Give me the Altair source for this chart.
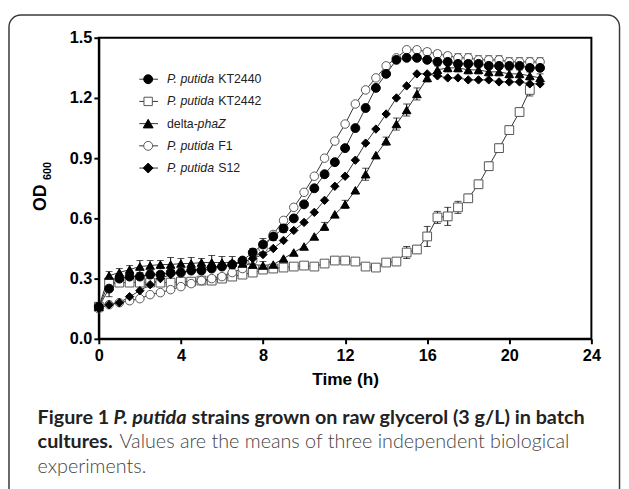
import altair as alt
import pandas as pd

# ---------------- data ----------------
times = [0, 0.5, 1, 1.5, 2, 2.5, 3, 3.5, 4, 4.5, 5, 5.5, 6, 6.5, 7, 7.5, 8, 8.5,
         9, 9.5, 10, 10.5, 11, 11.5, 12, 12.5, 13, 13.5, 14, 14.5, 15, 15.5,
         16, 16.5, 17, 17.5, 18, 18.5, 19, 19.5, 20, 20.5, 21, 21.5]

series = ["P. putida KT2440", "P. putida KT2442", "delta-phaZ",
          "P. putida F1", "P. putida S12"]

od_kt2440 = [0.16, 0.25, 0.30, 0.31, 0.31, 0.32, 0.32, 0.33, 0.33, 0.34,
             0.34, 0.35, 0.36, 0.37, 0.39, 0.43, 0.47, 0.51, 0.55, 0.60,
             0.67, 0.75, 0.82, 0.88, 0.95, 1.05, 1.15, 1.25, 1.32, 1.39,
             1.40, 1.40, 1.39, 1.38, 1.38, 1.37, 1.37, 1.37, 1.36, 1.36,
             1.36, 1.36, 1.35, 1.35]
od_kt2442 = [0.16, 0.28, 0.28, 0.28, 0.28, 0.28, 0.28, 0.28, 0.285, 0.285,
             0.29, 0.29, 0.30, 0.31, 0.32, 0.33, 0.345, 0.35, 0.355, 0.36,
             0.365, 0.36, 0.375, 0.39, 0.39, 0.385, 0.36, 0.355, 0.38, 0.385,
             0.43, 0.445, 0.51, 0.605, 0.61, 0.655, 0.70, 0.77, 0.86, 0.95,
             1.04, 1.13, 1.24]
od_dphaz = [0.16, 0.315, 0.33, 0.345, 0.36, 0.365, 0.37, 0.37, 0.375, 0.375,
            0.38, 0.38, 0.38, 0.38, 0.375, 0.37, 0.365, 0.37, 0.40, 0.43,
            0.46, 0.51, 0.56, 0.62, 0.67, 0.74, 0.82, 0.915, 0.985, 1.07,
            1.14, 1.22, 1.30, 1.34, 1.35, 1.35, 1.34, 1.34, 1.33, 1.33,
            1.32, 1.32, 1.31, 1.30]
od_f1 = [0.15, 0.17, 0.18, 0.19, 0.20, 0.22, 0.23, 0.245, 0.26, 0.275,
         0.29, 0.30, 0.31, 0.33, 0.35, 0.39, 0.45, 0.52, 0.59, 0.655,
         0.73, 0.81, 0.90, 0.985, 1.07, 1.17, 1.24, 1.30, 1.36, 1.40,
         1.44, 1.44, 1.43, 1.42, 1.41, 1.40, 1.40, 1.39, 1.39, 1.39,
         1.38, 1.38, 1.38, 1.38]
od_s12 = [0.15, 0.17, 0.18, 0.21, 0.24, 0.27, 0.30, 0.32, 0.33, 0.34,
          0.35, 0.36, 0.36, 0.37, 0.38, 0.40, 0.42, 0.45, 0.49, 0.54,
          0.58, 0.63, 0.69, 0.76, 0.81, 0.89, 0.975, 1.045, 1.12, 1.20,
          1.26, 1.32, 1.32, 1.31, 1.30, 1.30, 1.29, 1.29, 1.29, 1.28,
          1.28, 1.28, 1.27, 1.27]

err_kt2440 = [0.02, 0.04, 0.02, 0.01, 0.01, 0.01, 0.01, 0.01, 0.01, 0.01,
              0.01, 0.01, 0.01, 0.01, 0.01, 0.02, 0.03, 0.02, 0.02, 0.01,
              0.01, 0.01, 0.01, 0.01, 0.01, 0.01, 0.01, 0.01, 0.01, 0.01,
              0.01, 0.01, 0.01, 0.01, 0.01, 0.01, 0.01, 0.01, 0.01, 0.01,
              0.01, 0.01, 0.01, 0.01]
err_kt2442 = [0.02, 0.02, 0.01, 0.01, 0.01, 0.01, 0.01, 0.01, 0.01, 0.01,
              0.01, 0.01, 0.01, 0.01, 0.01, 0.01, 0.01, 0.01, 0.01, 0.01,
              0.01, 0.01, 0.01, 0.01, 0.01, 0.01, 0.01, 0.01, 0.01, 0.01,
              0.03, 0.02, 0.05, 0.03, 0.045, 0.03, 0.02, 0.02, 0.02, 0.02,
              0.02, 0.02, 0.03]
err_dphaz = [0.02, 0.02, 0.02, 0.02, 0.03, 0.025, 0.02, 0.035, 0.025, 0.03,
             0.02, 0.035, 0.03, 0.03, 0.02, 0.02, 0.02, 0.01, 0.01, 0.01,
             0.01, 0.01, 0.02, 0.01, 0.02, 0.01, 0.03, 0.01, 0.02, 0.03,
             0.03, 0.03, 0.02, 0.02, 0.02, 0.02, 0.02, 0.02, 0.02, 0.02,
             0.02, 0.02, 0.02, 0.02]
err_f1 = [0.01, 0.01, 0.01, 0.01, 0.01, 0.01, 0.01, 0.01, 0.01, 0.01,
          0.01, 0.01, 0.01, 0.01, 0.01, 0.01, 0.02, 0.01, 0.01, 0.01,
          0.01, 0.01, 0.01, 0.01, 0.01, 0.01, 0.01, 0.01, 0.01, 0.01,
          0.01, 0.01, 0.015, 0.015, 0.015, 0.02, 0.02, 0.02, 0.02, 0.02,
          0.02, 0.02, 0.02, 0.02]
err_s12 = [0.01] * 44

x_ticks = [0, 4, 8, 12, 16, 20, 24]
y_ticks = [0.0, 0.3, 0.6, 0.9, 1.2, 1.5]

caption_l1 = ["Figure 1", "P. putida", "strains grown on raw glycerol (3 g/L) in batch"]
caption_l2 = ["cultures.", "Values are the means of three independent biological"]
caption_l3 = ["experiments."]

# ---------------- table ----------------
values = {
    series[0]: (od_kt2440, err_kt2440),
    series[1]: (od_kt2442, err_kt2442),
    series[2]: (od_dphaz, err_dphaz),
    series[3]: (od_f1, err_f1),
    series[4]: (od_s12, err_s12),
}
draw_order = [series[1], series[3], series[2], series[4], series[0]]
rows = []
for name in draw_order:
    od, err = values[name]
    for t, v, e in zip(times, od, err):
        rows.append({"series": name, "t": t, "od": v, "lo": v - e, "hi": v + e, "err": e})
df = pd.DataFrame(rows)

shapes = ["circle", "square", "triangle-up", "circle", "diamond"]
fills = ["black", "white", "black", "white", "black"]
strokes = ["black", "#555555", "black", "#555555", "black"]
sizes = [81, 72, 100, 81, 100]

FONT = "Liberation Sans"
x_scale = alt.Scale(domain=[0, 24], nice=False, zero=False)
y_scale = alt.Scale(domain=[0, 1.5], nice=False)

x_axis = alt.Axis(values=x_ticks, title="Time (h)", grid=False, labelFlush=False,
                  labelOverlap=False, domainColor="black", domainWidth=2,
                  tickColor="black", tickWidth=2, tickSize=5, labelPadding=4,
                  labelFont=FONT, labelFontSize=16.5, labelFontWeight="bold",
                  labelColor="black", titleFont=FONT, titleFontSize=17.5,
                  titleFontWeight="bold", titleColor="black", titlePadding=7)
y_axis = alt.Axis(values=y_ticks, format=".1f", title=None, grid=False,
                  labelFlush=False, labelOverlap=False, domainColor="black",
                  domainWidth=2, tickColor="black", tickWidth=2, tickSize=5,
                  labelPadding=2, labelFont=FONT, labelFontSize=16.5,
                  labelFontWeight="bold", labelColor="black")

base = alt.Chart(df).encode(
    x=alt.X("t:Q", scale=x_scale, axis=x_axis),
    y=alt.Y("od:Q", scale=y_scale, axis=y_axis),
)

lines = base.mark_line(color="#333333", strokeWidth=1).encode(
    detail="series:N", order="t:Q")

err_data = alt.Chart(df).transform_filter("datum.err >= 0.015")
err_rules = err_data.mark_rule(color="black", strokeWidth=1).encode(
    x=alt.X("t:Q", scale=x_scale), y=alt.Y("lo:Q", scale=y_scale), y2="hi:Q")
cap_hi = err_data.mark_tick(orient="horizontal", size=7, thickness=1, color="black").encode(
    x=alt.X("t:Q", scale=x_scale), y=alt.Y("hi:Q", scale=y_scale))
cap_lo = err_data.mark_tick(orient="horizontal", size=7, thickness=1, color="black").encode(
    x=alt.X("t:Q", scale=x_scale), y=alt.Y("lo:Q", scale=y_scale))

points = base.mark_point(filled=True, opacity=1, strokeWidth=1).encode(
    shape=alt.Shape("series:N", scale=alt.Scale(domain=series, range=shapes), legend=None),
    fill=alt.Fill("series:N", scale=alt.Scale(domain=series, range=fills), legend=None),
    stroke=alt.Stroke("series:N", scale=alt.Scale(domain=series, range=strokes), legend=None),
    size=alt.Size("series:N", scale=alt.Scale(domain=series, range=sizes), legend=None),
)

layers = [lines, err_rules, cap_hi, cap_lo, points]

# ---------------- legend (inside the plot) ----------------
leg_y0, leg_dy = 42, 22.5
for i, name in enumerate(series):
    yy = leg_y0 + leg_dy * i
    one = pd.DataFrame({"label": [name]})
    layers.append(alt.Chart(one).mark_rule(color="#333333", strokeWidth=1).encode(
        x=alt.value(41), x2=alt.value(60), y=alt.value(yy)))
    layers.append(alt.Chart(one).mark_point(
        shape=shapes[i], filled=True, fill=fills[i], stroke=strokes[i],
        size=sizes[i], opacity=1, strokeWidth=1).encode(x=alt.value(50), y=alt.value(yy)))
    if name.startswith("P. putida"):
        parts = [("P. putida", "italic", 69), (name.replace("P. putida ", ""), "normal", 121)]
    else:
        parts = [("delta-", "normal", 69), ("phaZ", "italic", 100)]
    for txt, style, xx in parts:
        layers.append(alt.Chart(pd.DataFrame({"label": [txt]})).mark_text(
            font=FONT, fontSize=12.5, fontStyle=style, color="#222222",
            align="left", baseline="middle").encode(
            x=alt.value(xx), y=alt.value(yy), text="label:N"))

# ---------------- y-axis title OD600 ----------------
layers.append(alt.Chart(pd.DataFrame({"label": ["OD"]})).mark_text(
    font=FONT, fontSize=18, fontWeight="bold", color="black", angle=270,
    align="center", baseline="middle").encode(
    x=alt.value(-58), y=alt.value(162), text="label:N"))
layers.append(alt.Chart(pd.DataFrame({"label": ["600"]})).mark_text(
    font=FONT, fontSize=11, fontWeight="bold", color="black", angle=270,
    align="center", baseline="middle").encode(
    x=alt.value(-51), y=alt.value(135), text="label:N"))

# ---------------- figure border ----------------
layers.append(alt.Chart(pd.DataFrame({"label": ["box"]})).mark_rect(
    fillOpacity=0, stroke="#3a3a3a", strokeWidth=1.5, cornerRadius=12).encode(
    x=alt.value(-91), x2=alt.value(527.5), y=alt.value(-23), y2=alt.value(480)))

# ---------------- caption ----------------
CAP = "Lato"
cap_specs = [
    (caption_l1[0], "bold", "normal", -62, 385, "#222222"),
    (caption_l1[1], "bold", "italic", 15, 385, "#222222"),
    (caption_l1[2], "bold", "normal", 94, 385, "#222222"),
    (caption_l2[0], "bold", "normal", -62, 410, "#222222"),
    (caption_l2[1], 300, "normal", 21, 410, "#444444"),
    (caption_l3[0], 300, "normal", -62, 435, "#444444"),
]
for txt, weight, style, xx, yy, col in cap_specs:
    layers.append(alt.Chart(pd.DataFrame({"label": [txt]})).mark_text(
        font=CAP, fontSize=20, fontWeight=weight, fontStyle=style, color=col,
        align="left", baseline="middle").encode(
        x=alt.value(xx), y=alt.value(yy), text="label:N"))

chart = alt.layer(*layers).properties(
    width=499, height=305,
    padding={"left": 92, "top": 27, "right": 30, "bottom": 149},
    autosize=alt.AutoSizeParams(type="none"),
    background="white",
).configure_view(stroke="black", strokeWidth=2)

chart.save("out.html", embed_options={"renderer": "svg", "actions": False})
